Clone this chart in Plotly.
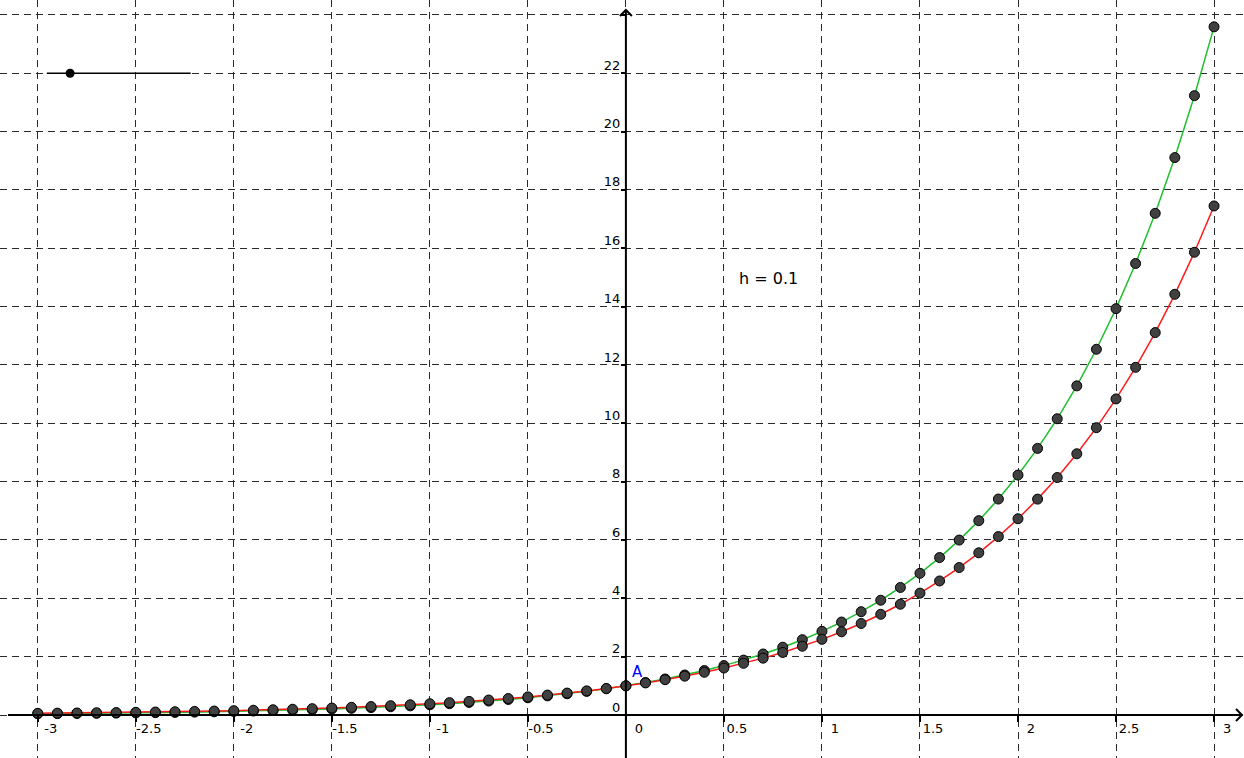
import plotly.graph_objects as go

# ---- data ----
x_vals = [round(-3 + 0.1 * i, 1) for i in range(61)]

# explicit Euler, h = 0.1 (red)
euler_red = [0.05731, 0.06304, 0.06935, 0.07628, 0.08391, 0.09230, 0.10153, 0.11168, 0.12285, 0.13513,
             0.14864, 0.16351, 0.17986, 0.19784, 0.21763, 0.23939, 0.26333, 0.28966, 0.31863, 0.35049,
             0.38554, 0.42410, 0.46651, 0.51316, 0.56447, 0.62092, 0.68301, 0.75131, 0.82645, 0.90909,
             1.0,
             1.1, 1.21, 1.331, 1.4641, 1.61051, 1.77156, 1.94872, 2.14359, 2.35795, 2.59374,
             2.85312, 3.13843, 3.45227, 3.79750, 4.17725, 4.59497, 5.05447, 5.55992, 6.11591, 6.72750,
             7.40025, 8.14027, 8.95430, 9.84973, 10.83471, 11.91818, 13.10999, 14.42099, 15.86309, 17.44940]

# implicit Euler, h = 0.1 (green)
implicit_green = [0.04239, 0.04710, 0.05233, 0.05815, 0.06461, 0.07179, 0.07977, 0.08863, 0.09848, 0.10942,
                  0.12158, 0.13509, 0.15009, 0.16677, 0.18530, 0.20589, 0.22877, 0.25419, 0.28243, 0.31381,
                  0.34868, 0.38742, 0.43047, 0.47830, 0.53144, 0.59049, 0.65610, 0.72900, 0.81000, 0.90000,
                  1.0,
                  1.11111, 1.23457, 1.37174, 1.52416, 1.69351, 1.88168, 2.09075, 2.32306, 2.58117, 2.86797,
                  3.18664, 3.54071, 3.93412, 4.37125, 4.85694, 5.39660, 5.99622, 6.66247, 7.40275, 8.22528,
                  9.13920, 10.15467, 11.28297, 12.53663, 13.92959, 15.47732, 17.19702, 19.10780, 21.23089, 23.58988]

x_ticks = [-3, -2.5, -2, -1.5, -1, -0.5, 0, 0.5, 1, 1.5, 2, 2.5, 3]
x_tick_labels = ["-3", "-2.5", "-2", "-1.5", "-1", "-0.5", "0", "0.5", "1", "1.5", "2", "2.5", "3"]
y_ticks = [0, 2, 4, 6, 8, 10, 12, 14, 16, 18, 20, 22, 24]
y_tick_labels = ["0", "2", "4", "6", "8", "10", "12", "14", "16", "18", "20", "22", ""]

slider_x = [-2.954, -2.220]
slider_y = [22, 22]
slider_point_x = [-2.835]
slider_point_y = [22]
h_label = "h = 0.1"
point_a = (0, 1)

X_RANGE = [-3.1926, 3.1528]
Y_RANGE = [-1.474, 24.51]
W, H = 1244, 758

fig = go.Figure()

fig.add_trace(go.Scatter(x=x_vals, y=implicit_green, mode="lines",
                         line=dict(color="#1fbf2f", width=1.5), hoverinfo="skip"))
fig.add_trace(go.Scatter(x=x_vals, y=euler_red, mode="lines",
                         line=dict(color="#ff1a1a", width=1.5), hoverinfo="skip"))

# slider for h
fig.add_trace(go.Scatter(x=slider_x, y=slider_y, mode="lines",
                         line=dict(color="black", width=1.5), hoverinfo="skip"))
fig.add_trace(go.Scatter(x=slider_point_x, y=slider_point_y, mode="markers",
                         marker=dict(color="black", size=9), hoverinfo="skip"))

marker_style = dict(color="#404040", size=10, line=dict(color="black", width=1))
fig.add_trace(go.Scatter(x=x_vals, y=implicit_green, mode="markers", marker=marker_style))
fig.add_trace(go.Scatter(x=x_vals, y=euler_red, mode="markers", marker=marker_style))

# axes lines and arrows
x_px = (X_RANGE[1] - X_RANGE[0]) / W
y_px = (Y_RANGE[1] - Y_RANGE[0]) / H
x_tip = X_RANGE[0] + 1242 * x_px
y_tip = Y_RANGE[1] - 10 * y_px
shapes = [
    dict(type="line", xref="x", yref="y", x0=X_RANGE[0] + 8 * x_px, x1=x_tip, y0=0, y1=0,
         line=dict(color="black", width=2)),
    dict(type="line", xref="x", yref="y", x0=0, x1=0, y0=Y_RANGE[0], y1=y_tip,
         line=dict(color="black", width=2)),
    dict(type="path", xref="x", yref="y", xsizemode="pixel", ysizemode="pixel",
         xanchor=x_tip, yanchor=0, path="M -6,-6 L 0,0 L -6,6",
         line=dict(color="black", width=2)),
    dict(type="path", xref="x", yref="y", xsizemode="pixel", ysizemode="pixel",
         xanchor=0, yanchor=y_tip, path="M -6,-6 L 0,0 L 6,-6",
         line=dict(color="black", width=2)),
]

annotations = [
    dict(x=0.725, y=14.95, xref="x", yref="y", text=h_label, showarrow=False,
         font=dict(family="DejaVu Sans", size=16, color="black")),
    dict(x=point_a[0] + 0.061, y=point_a[1] + 0.47, xref="x", yref="y", text="A", showarrow=False,
         font=dict(family="DejaVu Sans", size=15, color="#0000ff")),
]

grid = dict(showgrid=True, gridcolor="#2a2a2a", gridwidth=1, griddash="7px,5px",
            zeroline=False, showline=False)

fig.update_layout(
    width=W, height=H,
    margin=dict(l=0, r=0, t=0, b=0),
    paper_bgcolor="white", plot_bgcolor="white",
    showlegend=False,
    shapes=shapes,
    annotations=annotations,
    font=dict(family="DejaVu Sans", size=13, color="black"),
    xaxis=dict(range=X_RANGE, tickvals=x_ticks, ticktext=x_tick_labels,
               anchor="free", position=(H - 715) / H,
               ticks="outside", ticklen=6, tickwidth=2, tickcolor="black",
               ticklabelshift=13, ticklabelstandoff=-5, **grid),
    yaxis=dict(range=Y_RANGE, tickvals=y_ticks, ticktext=y_tick_labels,
               anchor="free", position=626 / W,
               ticks="outside", ticklen=5, tickwidth=2, tickcolor="black",
               ticklabelshift=-8, ticklabelstandoff=-2, **grid),
)

fig.write_html("out.html", config={"displayModeBar": False},
               post_script="document.body.style.margin='0';document.body.style.overflow='hidden';")
